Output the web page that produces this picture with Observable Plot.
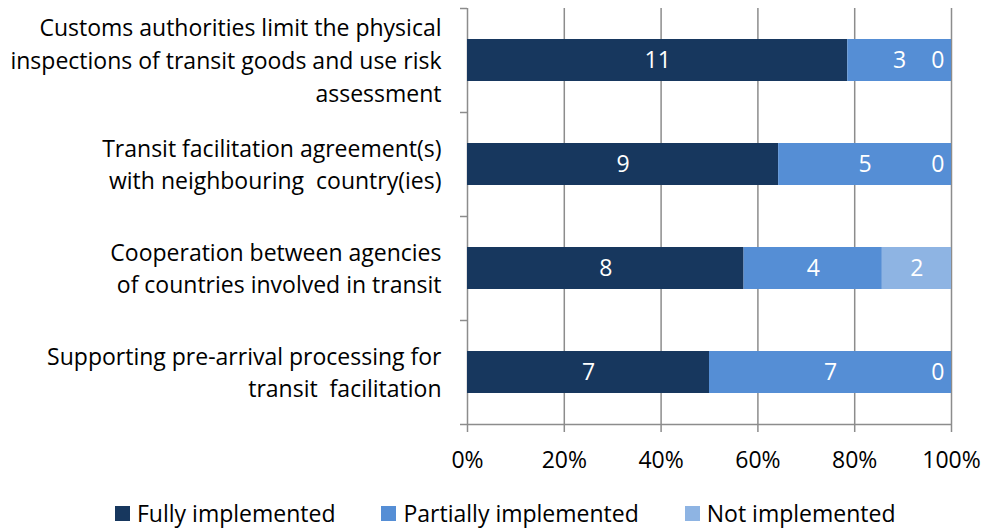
<!DOCTYPE html>
<html>
<head>
<meta charset="utf-8">
<script src="https://cdn.jsdelivr.net/npm/d3@7"></script>
<script src="https://cdn.jsdelivr.net/npm/@observablehq/plot@0.6"></script>
<style>
  html, body { margin: 0; padding: 0; background: #fff; }
  body { width: 985px; height: 529px; overflow: hidden; font-family: "Open Sans", sans-serif; }
  #legend { display: flex; gap: 46px; margin-left: 115px; margin-top: 19px; font-size: 23px; color: #000; line-height: 28px; }
  #legend .item { display: flex; align-items: center; gap: 7px; }
  #legend .sw { width: 15px; height: 15px; display: inline-block; }
</style>
</head>
<body>
<div id="chart"></div>
<div id="legend"></div>
<script>
const categories = [
  "Customs authorities limit the physical\ninspections of transit goods and use risk\nassessment",
  "Transit facilitation agreement(s)\nwith neighbouring  country(ies)",
  "Cooperation between agencies\nof countries involved in transit",
  "Supporting pre-arrival processing for\ntransit  facilitation"
];
const statuses = ["Fully implemented", "Partially implemented", "Not implemented"];
const fully = [11, 9, 8, 7];
const partially = [3, 5, 4, 7];
const notImplemented = [0, 0, 2, 0];
const colors = ["#17375E", "#558ED5", "#8EB4E3"];
const xTicks = [0, 0.2, 0.4, 0.6, 0.8, 1];

const series = [fully, partially, notImplemented];
const data = [];
categories.forEach((c, i) => {
  statuses.forEach((s, j) => data.push({category: c, status: s, value: series[j][i]}));
});

const W = 985, H = 480, mTop = 8, mBottom = 56, mLeft = 467, mRight = 34;
const bw = (H - mTop - mBottom) / categories.length;
const gray = "#8c8c8c";

const chart = Plot.plot({
  width: W, height: H,
  marginTop: mTop, marginBottom: mBottom, marginLeft: mLeft, marginRight: mRight,
  style: {fontFamily: "Open Sans, sans-serif", fontSize: "23px", color: "#000", background: "#fff"},
  x: {domain: [0, 1]},
  y: {domain: categories, padding: 0},
  color: {domain: statuses, range: colors},
  marks: [
    Plot.ruleX(xTicks, {stroke: gray, strokeWidth: 1.5}),
    Plot.barX(data, Plot.stackX({x: "value", y: "category", fill: "status", offset: "normalize", insetTop: bw/2 - 21, insetBottom: bw/2 - 21})),
    Plot.text(data, Plot.stackX({x: "value", y: "category", z: "status", offset: "normalize",
      text: d => d.value > 0 ? String(d.value) : null, fill: "white", fontSize: 23})),
    Plot.text(data, Plot.stackX({x: "value", y: "category", z: "status", offset: "normalize",
      text: d => d.value === 0 ? "0" : null, fill: "white", fontSize: 23, textAnchor: "end", dx: -7})),
    Plot.axisX({ticks: xTicks, tickFormat: d3.format(".0%"), tickSize: 8, tickPadding: 19, stroke: gray, strokeWidth: 1.5, fill: "#000", fontSize: 23, label: null}),
    Plot.axisY({tickSize: 0, tickPadding: 26, fill: "#000", fontSize: 23, lineHeight: 1.43, dy: -2, label: null}),
    Plot.axisY({tickSize: 7, tickFormat: () => "", dy: -bw/2, stroke: gray, strokeWidth: 1.5, label: null}),
    Plot.axisY({ticks: [categories[categories.length - 1]], tickSize: 7, tickFormat: () => "", dy: bw/2, stroke: gray, strokeWidth: 1.5, label: null}),
    Plot.ruleY([categories[categories.length - 1]], {dy: bw/2, stroke: gray, strokeWidth: 1.5})
  ]
});
document.getElementById("chart").appendChild(chart);

const legend = document.getElementById("legend");
statuses.forEach((s, i) => {
  const item = document.createElement("div");
  item.className = "item";
  const sw = document.createElement("span");
  sw.className = "sw";
  sw.style.background = colors[i];
  const t = document.createElement("span");
  t.textContent = s;
  item.appendChild(sw); item.appendChild(t);
  legend.appendChild(item);
});
</script>
</body>
</html>
